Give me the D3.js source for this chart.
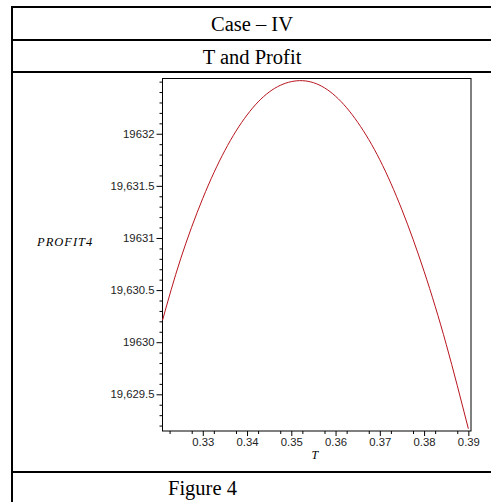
<!DOCTYPE html>
<html><head><meta charset="utf-8">
<script src="https://cdn.jsdelivr.net/npm/d3@7"></script>
<style>body{margin:0;background:#fff}svg{display:block}</style>
</head><body>
<script>
// Data
const T = [0.3209, 0.325, 0.330, 0.335, 0.340, 0.345, 0.350, 0.355, 0.360, 0.365, 0.370, 0.375, 0.380, 0.385, 0.390];
const PROFIT = [19630.21, 19630.80, 19631.38, 19631.84, 19632.18, 19632.40, 19632.50, 19632.49, 19632.36, 19632.11, 19631.75, 19631.27, 19630.68, 19629.98, 19629.17];
const xTicks = [0.33, 0.34, 0.35, 0.36, 0.37, 0.38, 0.39];
const xTickLabels = ["0.33", "0.34", "0.35", "0.36", "0.37", "0.38", "0.39"];
const yTicks = [19629.5, 19630, 19630.5, 19631, 19631.5, 19632];
const yTickLabels = ["19,629.5", "19630", "19,630.5", "19631", "19,631.5", "19632"];
const titles = ["Case \u2013 IV", "T and Profit"];
const caption = "Figure 4";
const xLabel = "T", yLabel = "PROFIT4";

const W = 491, H = 502;
const svg = d3.select("body").append("svg").attr("width", W).attr("height", H);

// table lines
const tbl = svg.append("g").attr("stroke", "#000").attr("stroke-width", 2);
[7, 40, 72, 472].forEach(y => tbl.append("line").attr("x1", 11).attr("x2", W).attr("y1", y).attr("y2", y));
tbl.append("line").attr("x1", 12).attr("x2", 12).attr("y1", 6).attr("y2", H);

const serif = "'Liberation Serif','Times New Roman',serif";
svg.append("text").attr("x", 252).attr("y", 31).attr("text-anchor", "middle")
  .attr("font-family", serif).attr("font-size", 20.5).text(titles[0]);
svg.append("text").attr("x", 252).attr("y", 64).attr("text-anchor", "middle")
  .attr("font-family", serif).attr("font-size", 20.5).text(titles[1]);
svg.append("text").attr("x", 168).attr("y", 495)
  .attr("font-family", serif).attr("font-size", 20.5).text(caption);

// plot area
const L = 162.5, R = 471, Tp = 78.5, B = 431;
const x = d3.scaleLinear().domain([0.3209, 0.3906]).range([L, R]);
const y = d3.scaleLinear().domain([19629.148, 19632.53]).range([B, Tp]);

svg.append("rect").attr("x", L).attr("y", Tp).attr("width", R - L).attr("height", B - Tp)
  .attr("fill", "none").attr("stroke", "#000").attr("stroke-width", 1);

const sans = "'Liberation Sans',Arial,sans-serif";
// y axis
const yMinor = d3.range(19629.2, 19632.55, 0.1).filter(v => !yTicks.some(t => Math.abs(t - v) < 1e-6));
svg.append("g").attr("transform", `translate(${L},0)`)
  .call(d3.axisLeft(y).tickValues(yMinor).tickSize(3).tickFormat(""));
svg.append("g").attr("transform", `translate(${L},0)`)
  .call(d3.axisLeft(y).tickValues(yTicks).tickSize(6).tickPadding(2)
  .tickFormat((d, i) => yTickLabels[i]));
// x axis
const xMinor = d3.range(0.3225, 0.3906, 0.005).filter(v => !xTicks.some(t => Math.abs(t - v) < 1e-6));
svg.append("g").attr("transform", `translate(0,${B})`)
  .call(d3.axisBottom(x).tickValues(xMinor).tickSize(3).tickFormat(""));
svg.append("g").attr("transform", `translate(0,${B})`)
  .call(d3.axisBottom(x).tickValues(xTicks).tickSize(5).tickPadding(2)
  .tickFormat((d, i) => xTickLabels[i]));
svg.selectAll(".domain").remove();
svg.selectAll(".tick line").attr("stroke", "#000");
svg.selectAll(".tick text").attr("font-family", sans).attr("font-size", 11.3).attr("fill", "#222");

svg.append("text").attr("x", x(0.3553)).attr("y", 459).attr("text-anchor", "middle")
  .attr("font-family", serif).attr("font-style", "italic").attr("font-size", 12).text(xLabel);
svg.append("text").attr("x", 37).attr("y", 246)
  .attr("font-family", serif).attr("font-style", "italic").attr("font-size", 12.5)
  .attr("letter-spacing", 1).text(yLabel);

// curve
const pts = T.map((t, i) => [t, PROFIT[i]]);
svg.append("path").datum(pts)
  .attr("fill", "none").attr("stroke", "#b8141e").attr("stroke-width", 1)
  .attr("d", d3.line().x(d => x(d[0])).y(d => y(d[1])).curve(d3.curveNatural));
</script>
</body></html>
